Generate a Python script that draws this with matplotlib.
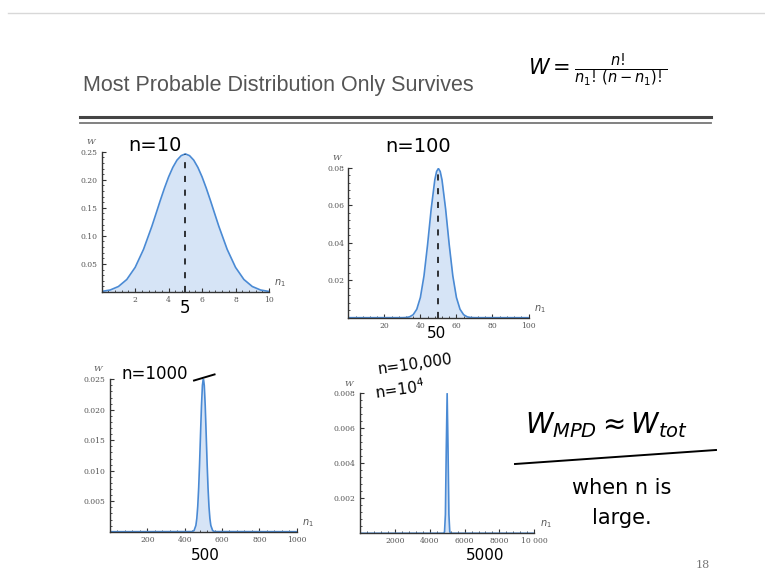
import matplotlib
matplotlib.use("Agg")
import matplotlib.pyplot as plt
from matplotlib.ticker import AutoMinorLocator, FixedLocator, FixedFormatter

# n = 10
x10 = [0, 0.5, 1, 1.5, 2, 2.5, 3, 3.25, 3.5, 3.75, 4, 4.25, 4.5, 4.75, 5,
       5.25, 5.5, 5.75, 6, 6.25, 6.5, 6.75, 7, 7.5, 8, 8.5, 9, 9.5, 10]
w10 = [0.001, 0.0035, 0.0098, 0.0223, 0.0439, 0.076, 0.1172, 0.140, 0.163, 0.185,
       0.2051, 0.222, 0.235, 0.243, 0.2461, 0.243, 0.235, 0.222, 0.2051, 0.185,
       0.163, 0.140, 0.1172, 0.076, 0.0439, 0.0223, 0.0098, 0.0035, 0.001]

# n = 100
x100 = [0, 30, 32, 34, 36, 38, 40, 42, 44, 46, 48, 49, 50, 51, 52, 54, 56, 58,
        60, 62, 64, 66, 68, 70, 100]
w100 = [0, 0.00002, 0.0001, 0.00046, 0.0016, 0.0045, 0.0108, 0.0223, 0.039, 0.058,
        0.0735, 0.078, 0.0796, 0.078, 0.0735, 0.058, 0.039, 0.0223, 0.0108, 0.0045,
        0.0016, 0.00046, 0.0001, 0.00002, 0]

# n = 1000
x1000 = [0, 440, 450, 460, 465, 470, 475, 480, 485, 490, 495, 500, 505, 510, 515,
         520, 525, 530, 535, 540, 550, 560, 1000]
w1000 = [0, 0.00002, 0.00017, 0.00103, 0.00218, 0.00417, 0.00723, 0.01134, 0.0161,
         0.02066, 0.0240, 0.0252, 0.0240, 0.02066, 0.0161, 0.01134, 0.00723, 0.00417,
         0.00218, 0.00103, 0.00017, 0.00002, 0]

# n = 10000
x10000 = [0, 4800, 4850, 4900, 4950, 5000, 5050, 5100, 5150, 5200, 10000]
w10000 = [0, 0.000003, 0.00009, 0.00108, 0.00484, 0.00798, 0.00484, 0.00108,
          0.00009, 0.000003, 0]

W, H = 765, 580
line_c = "#4a8ad4"
fill_c = "#d6e4f6"
tick_font = "DejaVu Serif"
hand = "black"


def px(x, y):
    return x / W, 1 - y / H


def box(l, r, t, b):
    return [l / W, 1 - b / H, (r - l) / W, (b - t) / H]


fig = plt.figure(figsize=(7.65, 5.8), dpi=100)
fig.patch.set_facecolor("white")

# slide frame & title
fig.add_artist(plt.Line2D([8 / W, 1], [1 - 13 / H] * 2, color="#d8d8d8", lw=1))
fig.text(*px(83, 86), "Most Probable Distribution Only Survives", fontsize=15.5,
         family=["Liberation Sans", "DejaVu Sans"], color="#555555", va="center")
fig.add_artist(plt.Line2D([80 / W, 711 / W], [1 - 117 / H] * 2, color="#444444", lw=2.2))
fig.add_artist(plt.Line2D([80 / W, 711 / W], [1 - 122.5 / H] * 2, color="#777777", lw=1.3))
fig.text(*px(703, 565), "18", fontsize=8, color="#777777", family=tick_font, ha="center", va="center")

panels = [
    (x10, w10, box(101.7, 269, 151.7, 292), 10, 0.25,
     [2, 4, 6, 8, 10], ["2", "4", "6", "8", "10"],
     [0.05, 0.10, 0.15, 0.20, 0.25], ["0.05", "0.10", "0.15", "0.20", "0.25"]),
    (x100, w100, box(348.3, 528.5, 167.7, 317.7), 100, 0.08,
     [20, 40, 60, 80, 100], ["20", "40", "60", "80", "100"],
     [0.02, 0.04, 0.06, 0.08], ["0.02", "0.04", "0.06", "0.08"]),
    (x1000, w1000, box(110, 296.7, 379.3, 531.7), 1000, 0.025,
     [200, 400, 600, 800, 1000], ["200", "400", "600", "800", "1000"],
     [0.005, 0.010, 0.015, 0.020, 0.025], ["0.005", "0.010", "0.015", "0.020", "0.025"]),
    (x10000, w10000, box(360, 534.3, 393.3, 533.3), 10000, 0.008,
     [2000, 4000, 6000, 8000, 10000], ["2000", "4000", "6000", "8000", "10 000"],
     [0.002, 0.004, 0.006, 0.008], ["0.002", "0.004", "0.006", "0.008"]),
]

axes = []
for xs, ws, rect, xmax, ymax, xt, xtl, yt, ytl in panels:
    ax = fig.add_axes(rect)
    ax.patch.set_alpha(0)
    ax.fill_between(xs, ws, 0, color=fill_c, lw=0)
    ax.plot(xs, ws, color=line_c, lw=1.2)
    ax.set_xlim(0, xmax)
    ax.set_ylim(0, ymax)
    for s in ["top", "right"]:
        ax.spines[s].set_visible(False)
    for s in ["left", "bottom"]:
        ax.spines[s].set_color("#333333")
        ax.spines[s].set_linewidth(1.0)
    ax.xaxis.set_major_locator(FixedLocator(xt))
    ax.xaxis.set_major_formatter(FixedFormatter(xtl))
    ax.yaxis.set_major_locator(FixedLocator(yt))
    ax.yaxis.set_major_formatter(FixedFormatter(ytl))
    ax.xaxis.set_minor_locator(AutoMinorLocator(5))
    ax.yaxis.set_minor_locator(AutoMinorLocator(5))
    ax.tick_params(which="major", direction="in", length=3, width=0.8,
                   color="#333333", labelsize=5.5, labelcolor="#555555", pad=3)
    ax.tick_params(which="minor", direction="in", length=1.5, width=0.6, color="#333333")
    for lab in ax.get_xticklabels() + ax.get_yticklabels():
        lab.set_family(tick_font)
    ax.text(-0.04, 1.04, "W", transform=ax.transAxes, fontsize=6, style="italic",
            family=tick_font, color="#555555", ha="right", va="bottom")
    ax.text(1.03, 0.02, r"$n_1$", transform=ax.transAxes, fontsize=7,
            color="#555555", ha="left", va="bottom")
    axes.append(ax)

# hand-drawn dashed guides at the peaks
axes[0].plot([5, 5], [0, 0.246], ls=(0, (4, 5)), color=hand, lw=1.1)
axes[1].plot([50, 50], [0, 0.0796], ls=(0, (4, 5)), color=hand, lw=1.1)
axes[2].plot([450, 560], [0.0248, 0.0258], color=hand, lw=1.4, clip_on=False)

# handwritten notes
hw = dict(color=hand, family="DejaVu Sans", fontweight="normal")
fig.text(*px(128, 146), "n=10", fontsize=14, va="center", **hw)
fig.text(*px(385, 147), "n=100", fontsize=14, va="center", **hw)
fig.text(*px(122, 374), "n=1000", fontsize=12, va="center", **hw)
fig.text(*px(377, 364), "n=10,000", fontsize=11, va="center", rotation=8, **hw)
fig.text(*px(374, 389), r"n=10$^4$", fontsize=11, va="center", rotation=8, **hw)
fig.text(*px(185, 308), "5", fontsize=12, ha="center", va="center", **hw)
fig.text(*px(437, 333), "50", fontsize=11, ha="center", va="center", **hw)
fig.text(*px(205, 556), "500", fontsize=11, ha="center", va="center", **hw)
fig.text(*px(485, 556), "5000", fontsize=11, ha="center", va="center", **hw)
fig.text(*px(528, 70), r"$W = \frac{n!}{n_1!\,(n-n_1)!}$", fontsize=15, va="center", color=hand)
fig.text(*px(525, 425), r"$W_{MPD} \approx W_{tot}$", fontsize=20, va="center", color=hand)
fig.add_artist(plt.Line2D([515 / W, 716 / W], [1 - 464 / H, 1 - 450 / H], color=hand, lw=1.4))
fig.text(*px(572, 488), "when n is", fontsize=15, va="center", **hw)
fig.text(*px(592, 518), "large.", fontsize=15, va="center", **hw)

fig.savefig("out.png", dpi=100)
